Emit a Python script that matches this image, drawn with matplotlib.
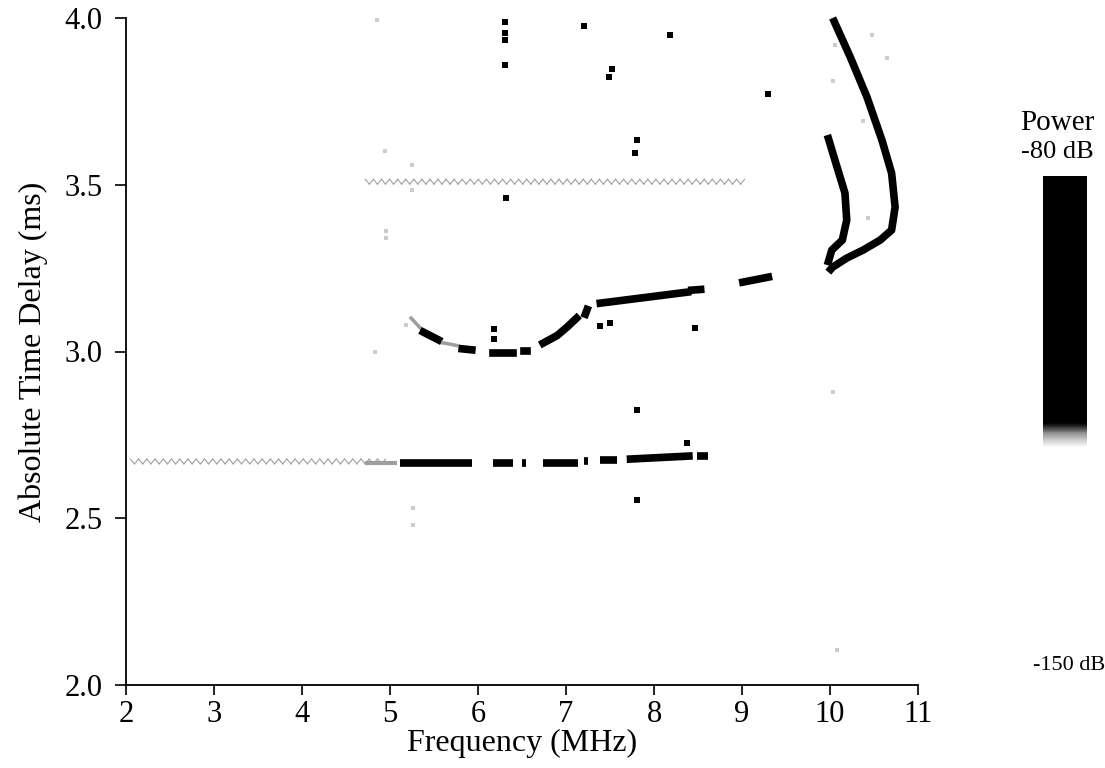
import matplotlib
matplotlib.use("Agg")
import matplotlib.pyplot as plt
from matplotlib import patheffects
from matplotlib.colors import LinearSegmentedColormap, Normalize
from matplotlib.cm import ScalarMappable

plt.rcParams['font.family'] = ['Liberation Serif', 'DejaVu Serif']

# ---- power scale (dB) ----
P_MIN, P_MAX = -150, -80
STRONG = -90      # echo returns
WEAK = -118.6     # interference bands
FAINT = -119.4    # isolated noise specks

# ---- interference bands (zigzag) ----
band_f0 = [2.05, 4.72]
band_f1 = [4.95, 9.03]
band_t = [2.669, 3.508]

# ---- lower echo trace, segments with gaps ----
low_f0 = [4.72, 5.11, 6.17, 6.50, 6.74, 7.21, 7.39, 7.69, 8.49]
low_f1 = [5.08, 5.93, 6.40, 6.55, 7.14, 7.25, 7.58, 8.44, 8.61]
low_t0 = [2.667, 2.667, 2.667, 2.667, 2.667, 2.672, 2.674, 2.677, 2.688]
low_t1 = [2.667, 2.667, 2.667, 2.667, 2.667, 2.672, 2.674, 2.687, 2.688]
low_p = [WEAK, STRONG, STRONG, STRONG, STRONG, STRONG, STRONG, STRONG, STRONG]

# ---- upper echo trace (3.0 - 3.2 ms), pieces ----
mid_f = [[5.24, 5.36], [5.38, 5.55], [5.60, 5.76], [5.82, 5.93],
         [6.17, 6.40], [6.52, 6.56],
         [6.74, 6.90, 7.02, 7.12], [7.22, 7.24],
         [7.39, 7.84, 8.38], [8.43, 8.53], [9.01, 9.30]]
mid_t = [[3.100, 3.066], [3.058, 3.035], [3.026, 3.018], [3.008, 3.005],
         [2.995, 2.995], [3.001, 3.001],
         [3.025, 3.048, 3.075, 3.100], [3.112, 3.126],
         [3.145, 3.160, 3.178], [3.184, 3.186], [3.208, 3.223]]
mid_p = [WEAK, STRONG, WEAK, STRONG, STRONG, STRONG, STRONG, STRONG,
         STRONG, STRONG, STRONG]

# ---- split echo near 10 MHz ----
outer_f = [10.03, 10.23, 10.42, 10.59, 10.70, 10.74, 10.70, 10.57, 10.375, 10.19, 10.03, 9.98]
outer_t = [4.000, 3.883, 3.763, 3.634, 3.535, 3.433, 3.364, 3.334, 3.304, 3.280, 3.253, 3.238]
inner_f = [9.97, 10.08, 10.17, 10.19, 10.14, 10.02, 9.97]
inner_t = [3.649, 3.553, 3.475, 3.394, 3.334, 3.304, 3.259]

# ---- isolated strong returns ----
dot_f = [6.31, 6.31, 6.31, 6.31, 7.20, 8.18, 7.52, 7.49, 9.30, 7.81, 7.78,
         6.32, 7.39, 7.50, 8.47, 7.81, 7.81, 8.38, 6.18, 6.18]
dot_t = [3.988, 3.955, 3.935, 3.859, 3.976, 3.949, 3.847, 3.823, 3.772, 3.634,
         3.595, 3.460, 3.076, 3.085, 3.070, 2.825, 2.555, 2.725, 3.066, 3.037]

# ---- faint specks ----
speck_f = [4.85, 4.94, 4.96, 4.96, 5.25, 5.25, 5.26, 5.26, 10.48, 10.65, 10.06,
           10.03, 10.375, 10.43, 10.03, 10.08, 4.83, 5.18]
speck_t = [3.994, 3.600, 3.360, 3.340, 3.560, 3.485, 2.530, 2.480, 3.950, 3.880,
           3.920, 3.810, 3.690, 3.400, 2.880, 2.105, 3.000, 3.080]

# gray-level power scale: white below the noise floor, black above
stops = [(-150, 1.0), (-120.5, 1.0), (-119.5, 0.82), (-118.5, 0.6),
         (-117.6, 0.25), (-116.9, 0.0), (-80, 0.0)]
cmap = LinearSegmentedColormap.from_list(
    "power", [((v - P_MIN) / (P_MAX - P_MIN), (g, g, g)) for v, g in stops], N=1024)
norm = Normalize(P_MIN, P_MAX)


def pc(p):
    return cmap(norm(p))


fig = plt.figure(figsize=(11.05, 7.68), dpi=100)
ax = fig.add_axes([126 / 1105, 1 - 685 / 768, (918 - 126) / 1105, (685 - 18) / 768])

# interference bands
for f0, f1, t in zip(band_f0, band_f1, band_t):
    ax.plot([f0, f1], [t - 0.006, t - 0.006], color=pc(WEAK), lw=0.8,
            path_effects=[
                patheffects.TickedStroke(spacing=5.8, angle=50, length=0.78),
                patheffects.TickedStroke(spacing=5.8, angle=130, length=0.78)])

# lower trace
for f0, f1, t0, t1, p in zip(low_f0, low_f1, low_t0, low_t1, low_p):
    ax.plot([f0, f1], [t0, t1], color=pc(p), lw=5.5 if p == STRONG else 3,
            solid_capstyle='butt')

# upper trace
for fs, ts, p in zip(mid_f, mid_t, mid_p):
    ax.plot(fs, ts, color=pc(p), lw=5.5 if p == STRONG else 2.5,
            solid_capstyle='projecting', solid_joinstyle='round')

# split echo
ax.plot(outer_f, outer_t, color=pc(STRONG), lw=5.5, solid_joinstyle='round',
        solid_capstyle='butt', clip_on=False)
ax.plot(inner_f, inner_t, color=pc(STRONG), lw=5.5, solid_joinstyle='round',
        solid_capstyle='butt')

# isolated returns and specks
ax.plot(dot_f, dot_t, ls='none', marker='s', ms=4.5, color=pc(STRONG), mew=0)
ax.plot(speck_f, speck_t, ls='none', marker='s', ms=2.5, color=pc(FAINT), mew=0)

ax.set_xlim(2, 11)
ax.set_ylim(2.0, 4.0)
ax.set_xticks(range(2, 12))
ax.set_yticks([2.0, 2.5, 3.0, 3.5, 4.0])
ax.set_yticklabels(["2.0", "2.5", "3.0", "3.5", "4.0"])
for s in ("top", "right"):
    ax.spines[s].set_visible(False)
for s in ("left", "bottom"):
    ax.spines[s].set_linewidth(1.3)
ax.tick_params(labelsize=22, length=7, width=1.2, direction='out', pad=4)
ax.tick_params(axis='y', length=8, pad=9)
ax.set_xlabel("Frequency (MHz)", fontsize=23, labelpad=0)
ax.set_ylabel("Absolute Time Delay (ms)", fontsize=23, labelpad=12)

# power scale bar
cax = fig.add_axes([1043 / 1105, 1 - 645 / 768, 44 / 1105, (645 - 176) / 768])
cb = fig.colorbar(ScalarMappable(norm=norm, cmap=cmap), cax=cax)
cb.outline.set_visible(False)
cb.set_ticks([])
fig.text(1057 / 1105, 1 - 123 / 768, "Power", fontsize=21, ha='center', va='center')
fig.text(1057 / 1105, 1 - 152 / 768, "-80 dB", fontsize=19, ha='center', va='center')
fig.text(1069 / 1105, 1 - 665 / 768, "-150 dB", fontsize=16, ha='center', va='center')

fig.savefig("out.png", dpi=100)
